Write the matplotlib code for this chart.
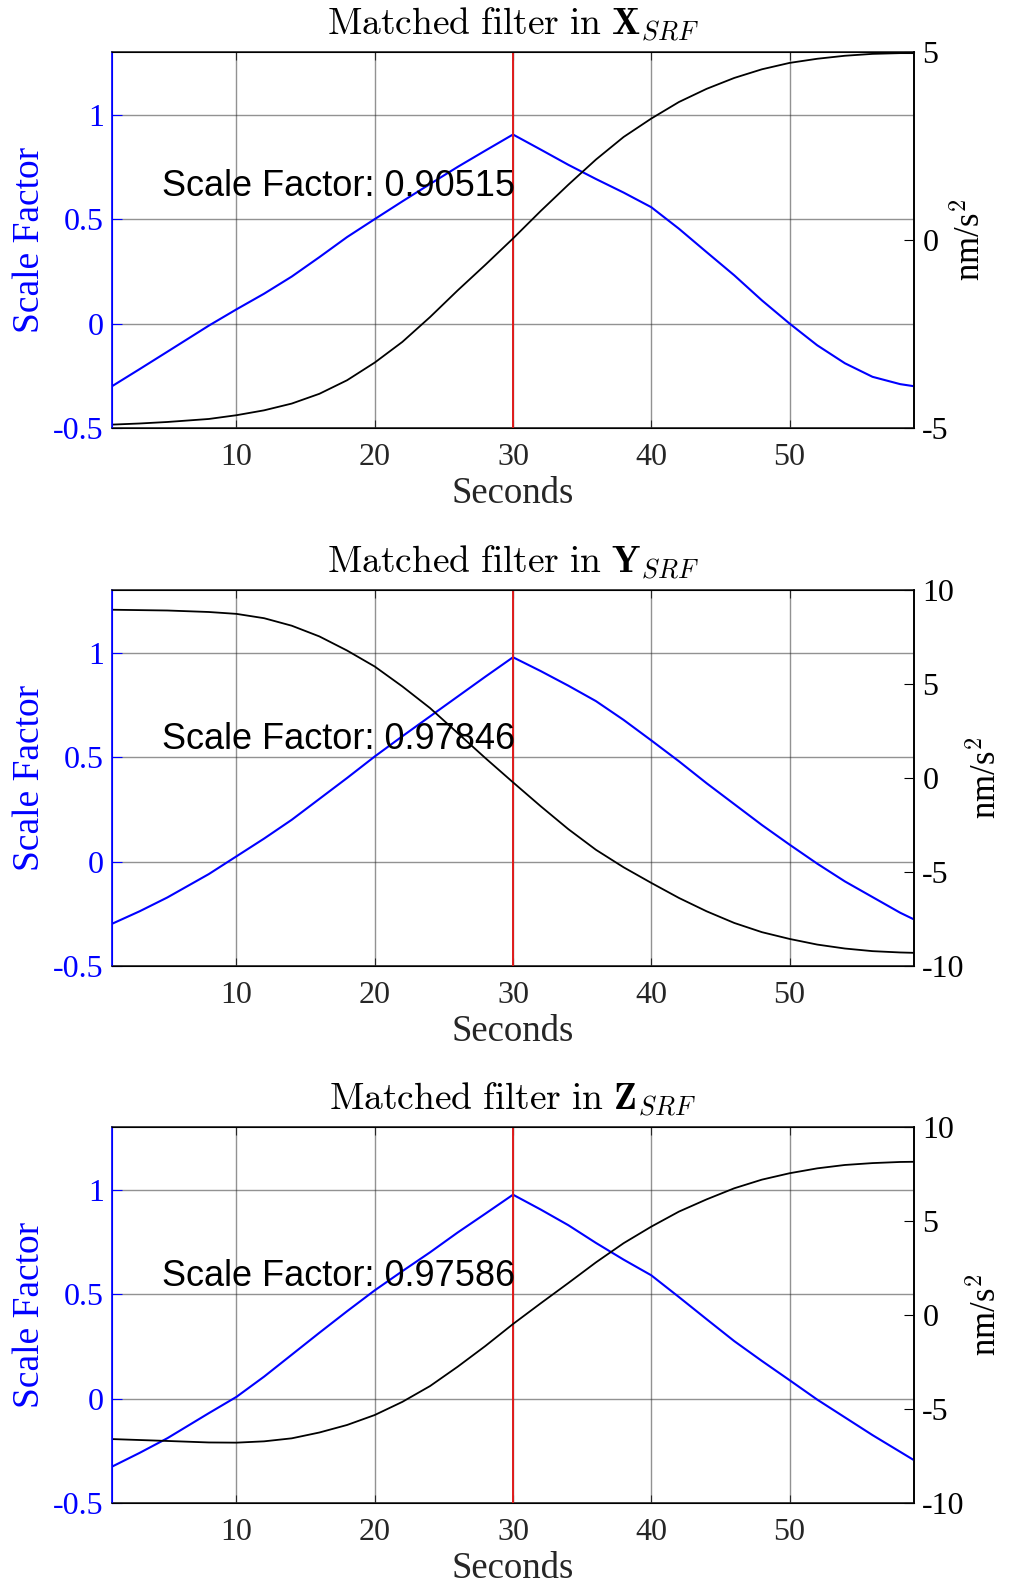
import numpy as np
import matplotlib
matplotlib.use("Agg")
from matplotlib import pyplot as plt

plt.rcParams['font.family'] = 'serif'
plt.rcParams['font.serif'] = ['Liberation Serif', 'DejaVu Serif']
plt.rcParams['mathtext.fontset'] = 'cm'

# sample times (seconds)
t = [1, 3, 5, 8, 10, 12, 14, 16, 18, 20, 22, 24, 26, 28, 30,
     32, 34, 36, 38, 40, 42, 44, 46, 48, 50, 52, 54, 56, 58, 59]

# matched filter scale factor (left axis)
scale_x = [-0.30, -0.218, -0.135, -0.01, 0.068, 0.143, 0.225, 0.318, 0.414, 0.50,
           0.585, 0.668, 0.75, 0.828, 0.905, 0.833, 0.76, 0.692, 0.627, 0.557,
           0.454, 0.342, 0.231, 0.111, 0.0, -0.104, -0.19, -0.255, -0.29, -0.30]
scale_y = [-0.298, -0.238, -0.172, -0.06, 0.025, 0.11, 0.20, 0.30, 0.40, 0.503,
           0.60, 0.695, 0.79, 0.885, 0.978, 0.912, 0.842, 0.768, 0.678, 0.58,
           0.48, 0.375, 0.275, 0.175, 0.081, -0.01, -0.095, -0.17, -0.245, -0.277]
scale_z = [-0.326, -0.26, -0.19, -0.07, 0.008, 0.105, 0.21, 0.315, 0.418, 0.518,
           0.61, 0.70, 0.795, 0.885, 0.976, 0.905, 0.83, 0.745, 0.665, 0.59,
           0.486, 0.38, 0.275, 0.18, 0.088, -0.005, -0.09, -0.175, -0.255, -0.295]

# signal in nm/s^2 (right axis)
accel_x = [-4.91, -4.88, -4.84, -4.76, -4.66, -4.53, -4.35, -4.09, -3.73, -3.26,
           -2.71, -2.05, -1.34, -0.66, 0.04, 0.77, 1.47, 2.14, 2.74, 3.23,
           3.67, 4.02, 4.31, 4.54, 4.71, 4.82, 4.90, 4.95, 4.97, 4.97]
accel_y = [8.95, 8.93, 8.91, 8.83, 8.73, 8.50, 8.10, 7.53, 6.78, 5.93,
           4.87, 3.72, 2.39, 1.06, -0.23, -1.50, -2.72, -3.82, -4.75, -5.58,
           -6.38, -7.09, -7.71, -8.20, -8.56, -8.86, -9.07, -9.21, -9.28, -9.30]
accel_z = [-6.60, -6.65, -6.70, -6.78, -6.79, -6.72, -6.56, -6.25, -5.85, -5.32,
           -4.62, -3.78, -2.75, -1.65, -0.48, 0.62, 1.70, 2.80, 3.82, 4.70,
           5.50, 6.15, 6.74, 7.20, 7.54, 7.80, 7.98, 8.08, 8.14, 8.15]

axes_names = ['X', 'Y', 'Z']
scales = [scale_x, scale_y, scale_z]
accels = [accel_x, accel_y, accel_z]
factors = ['0.90515', '0.97846', '0.97586']
text_y = [0.656, 0.585, 0.586]
right_lims = [(-5, 5), (-10, 10), (-10, 10)]
right_ticks = [[-5, 0, 5], [-10, -5, 0, 5, 10], [-10, -5, 0, 5, 10]]
peak_t = 30

W, H = 1009, 1585
fig = plt.figure(figsize=(W / 100, H / 100), dpi=100)
bottoms = [1 - 428 / H, 1 - 966 / H, 1 - 1503 / H]
dark = '#262626'

for i in range(3):
    ax = fig.add_axes([112 / W, bottoms[i], 802 / W, 376 / H])
    ax2 = ax.twinx()

    ax.plot(t, scales[i], color='blue', lw=1.5, zorder=3)
    ax.axvline(peak_t, color='#e01b1b', lw=1.4, zorder=4)
    ax2.plot(t, accels[i], color='black', lw=1.3)

    ax.set_xlim(1, 59)
    ax.set_ylim(-0.5, 1.3)
    ax.set_xticks([10, 20, 30, 40, 50])
    ax.set_yticks([-0.5, 0, 0.5, 1])
    ax.set_yticklabels(['-0.5', '0', '0.5', '1'])
    ax.grid(True, color='#262626', alpha=0.5, lw=1.0)
    ax.tick_params(axis='x', direction='in', length=6, top=True, labelsize=23,
                   colors=dark, pad=11)
    ax.tick_params(axis='y', direction='in', length=7, labelsize=23,
                   colors='blue', pad=6)
    ax.spines['left'].set_color('blue')
    ax.spines['top'].set_color(dark)
    ax.spines['bottom'].set_color(dark)
    for s in ax.spines.values():
        s.set_linewidth(1.2)

    ax2.set_ylim(*right_lims[i])
    ax2.set_yticks(right_ticks[i])
    ax2.set_yticklabels([str(v) for v in right_ticks[i]])
    ax2.tick_params(axis='y', direction='in', length=7, labelsize=23,
                    colors='black', pad=6)
    ax2.spines['right'].set_color('black')
    ax2.spines['left'].set_color('blue')
    ax2.spines['right'].set_linewidth(1.2)

    ax.set_ylabel('Scale Factor', color='blue', fontsize=27, labelpad=4)
    ax2.set_ylabel('nm/s$^{2}$', color='black', fontsize=25, labelpad=3)
    ax.set_xlabel('Seconds', color=dark, fontsize=26.5, labelpad=3)
    ax.set_title(r'$\mathrm{Matched\ filter\ in\ }\mathbf{%s}_{SRF}$' % axes_names[i],
                 fontsize=27, pad=12)

    ax2.text(4.6, text_y[i], 'Scale Factor: ' + factors[i], transform=ax.transData,
             fontsize=26, family='Liberation Sans', va='center', ha='left')

fig.savefig('out.png', dpi=100)
